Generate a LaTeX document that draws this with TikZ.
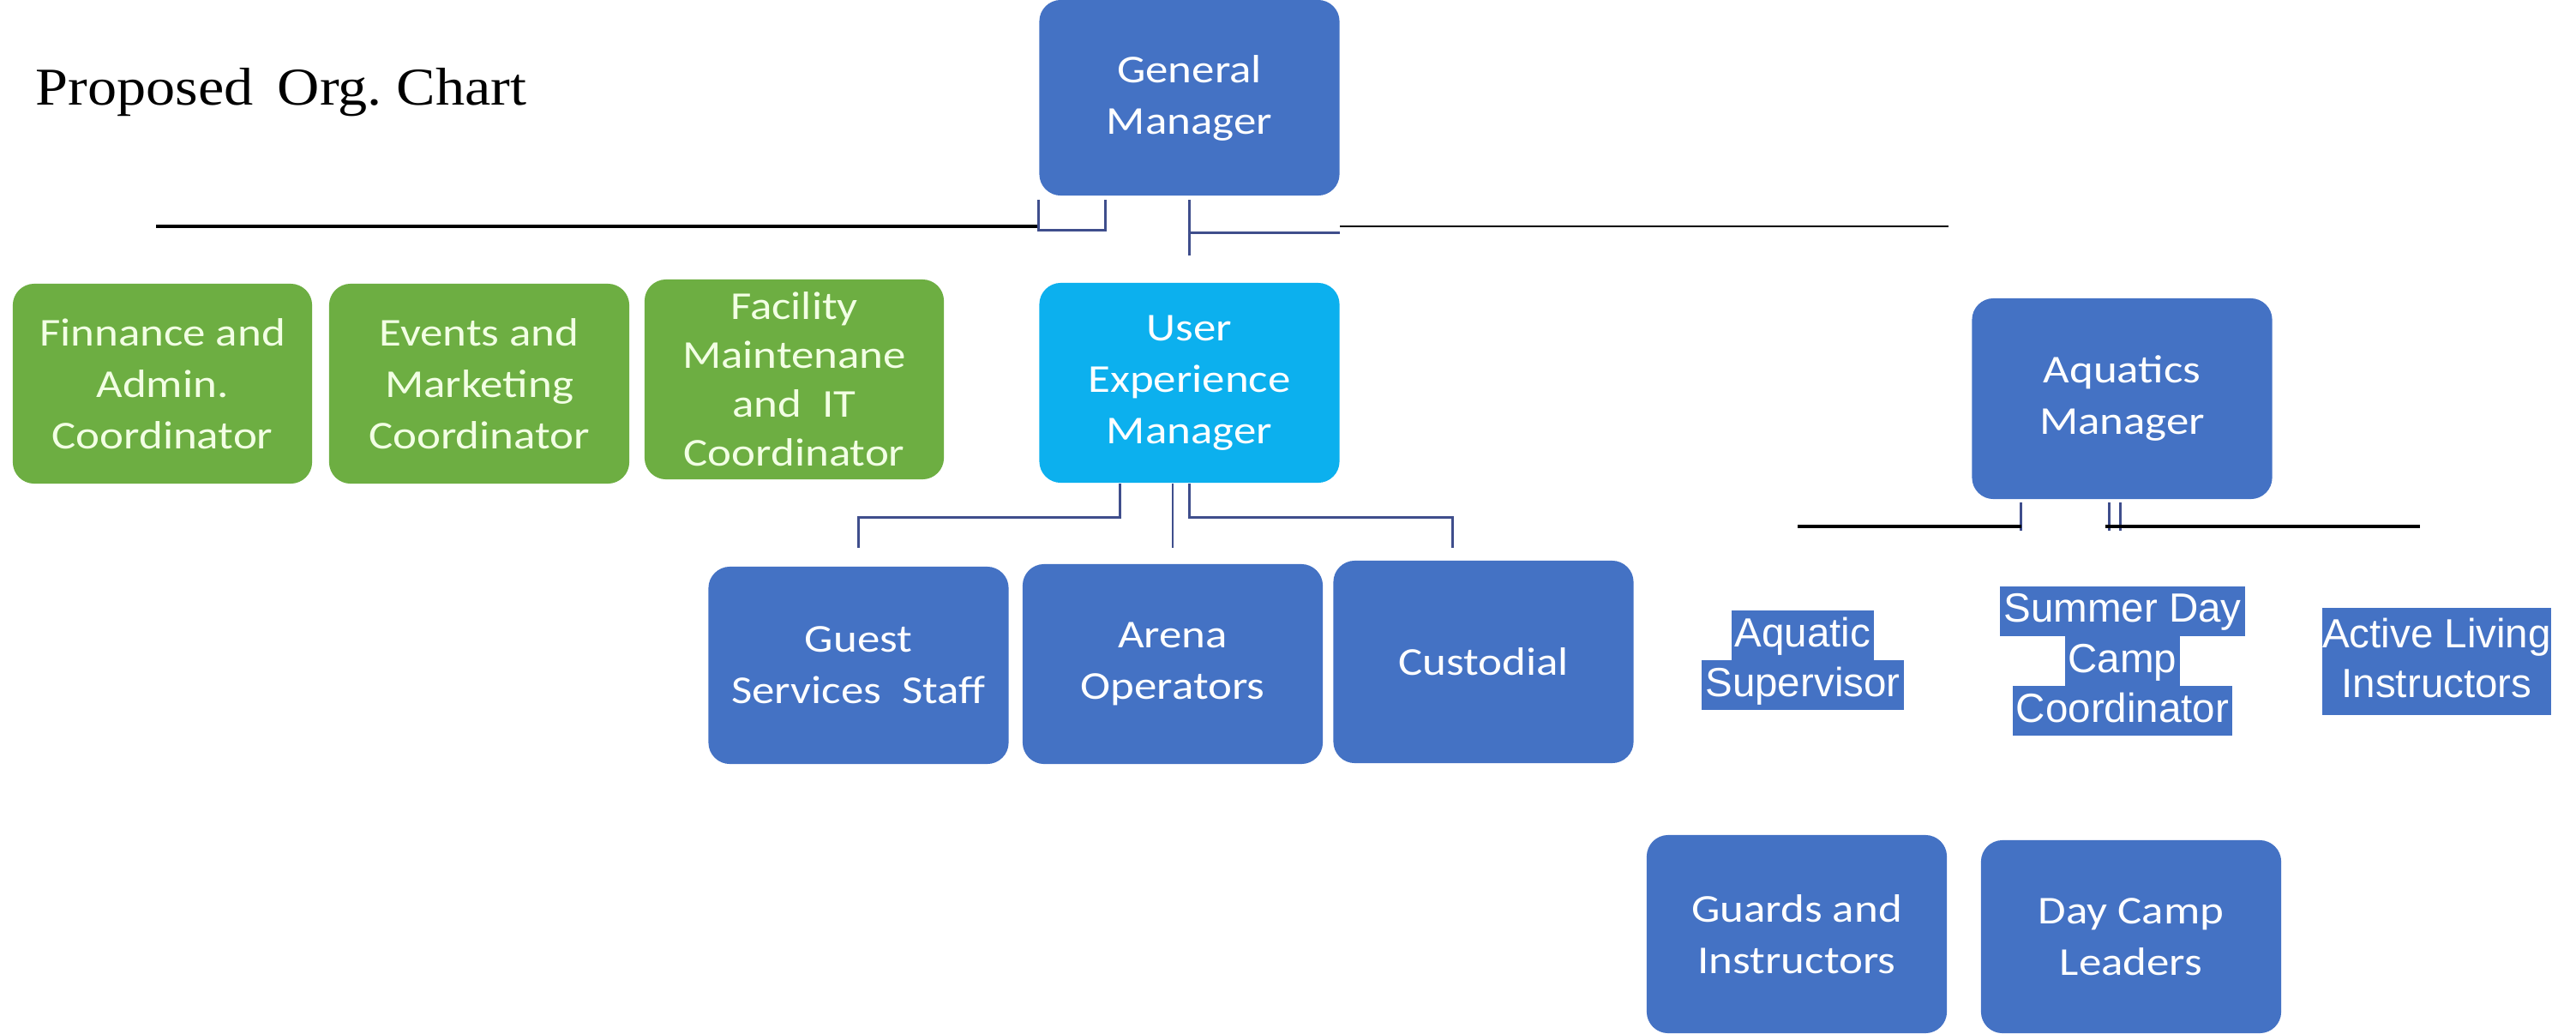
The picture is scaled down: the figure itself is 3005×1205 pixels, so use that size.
\documentclass[tikz,border=0pt]{standalone}
\usepackage{fontspec}
\newfontfamily\boxfont[FakeStretch=1.15]{Carlito}
\newfontfamily\hlfont{Liberation Sans}
\newfontfamily\titlefont[FakeStretch=1.1]{Liberation Serif}
\definecolor{gmblue}{HTML}{4472C4}
\definecolor{uxblue}{HTML}{0CB0EE}
\definecolor{grn}{HTML}{6DAE42}
\definecolor{txtgrn}{HTML}{F2FFE4}
\definecolor{hlblue}{HTML}{4472C4}
\definecolor{linkblue}{HTML}{3F4E8C}
\setlength{\fboxsep}{0pt}
\newcommand{\hlstrut}{\rule[-0.16cm]{0pt}{0.58cm}}
\newcommand{\hlrow}[1]{\colorbox{hlblue}{\hspace{0.04cm}\hlstrut#1\hspace{0.04cm}}}

\begin{document}
\begin{tikzpicture}[x=0.01cm, y=-0.01cm,
  box/.style={rounded corners=0.25cm, minimum width=3.5cm, minimum height=2.33cm,
    inner sep=0pt, align=center, text=white,
    font=\boxfont\fontsize{0.46cm}{0.6cm}\selectfont},
  greenbox/.style={box, fill=grn, text=txtgrn},
  bluebox/.style={box, fill=gmblue},
  hltext/.style={inner sep=0pt, align=center, text=white,
    font=\hlfont\fontsize{0.475cm}{0.58cm}\selectfont},
  link/.style={draw=linkblue, line width=0.028cm},
  blackline/.style={draw=black, line width=0.035cm},
  thinline/.style={draw=black, line width=0.02cm}]
  \useasboundingbox (0,0) rectangle (3005,1205);

  \node[anchor=base west, inner sep=0pt,
    font=\titlefont\fontsize{0.62cm}{0.7cm}\selectfont] (title) at (41,122)
    {Proposed\hspace{0.11cm} Org.\ Chart};

  % top level
  \node[bluebox, minimum height=2.28cm] (gm) at (1387.5,114) {General\\Manager};
  \node[box, fill=uxblue] (uxm) at (1387.5,446.5) {User\\Experience\\Manager};
  \node[greenbox, minimum width=3.49cm] (fin) at (189.5,447.5) {Finnance and\\Admin.\\Coordinator};
  \node[greenbox] (evt) at (559,447.5) {Events and\\Marketing\\Coordinator};
  \node[greenbox, minimum width=3.49cm,
    font=\boxfont\fontsize{0.46cm}{0.57cm}\selectfont] (fac) at (926.5,442.5)
    {Facility\\Maintenane\\and\ \ IT\\Coordinator};
  \node[bluebox, minimum height=2.34cm] (aqm) at (2475.5,465) {Aquatics\\Manager};

  % user experience staff
  \node[bluebox, minimum height=2.3cm] (gss) at (1001.5,776) {Guest\\Services\ \ Staff};
  \node[bluebox] (arena) at (1368,774.5) {Arena\\Operators};
  \node[bluebox, minimum height=2.36cm] (cust) at (1730.5,772) {Custodial};

  % aquatics staff
  \node[hltext] (aqs) at (2103,770) {\hlrow{Aquatic}\\\hlrow{Supervisor}};
  \node[hltext] (sdc) at (2476,771) {\hlrow{Summer Day}\\\hlrow{Camp}\\\hlrow{Coordinator}};
  \node[hltext, fill=hlblue, inner ysep=0.04cm] (ali) at (2842.5,771.5)
    {\hlstrut Active Living\\\hlstrut Instructors};
  \node[bluebox, minimum height=2.31cm] (guards) at (2096,1089.5) {Guards and\\Instructors};
  \node[bluebox, minimum height=2.25cm] (dcl) at (2486,1092.5) {Day Camp\\Leaders};

  % lines under the general manager
  \coordinate (lineL) at (182,264);
  \coordinate (lineR) at (2273,264);
  \draw[blackline] (lineL) -- (lineL -| gm.west);
  \draw[thinline] (gm.east |- lineR) -- (lineR);
  \draw[link] ([shift={(0,4)}]gm.south west) -- ++(0,36) -| ([shift={(78,4)}]gm.south west);
  \draw[link] ([shift={(0,4)}]gm.south) -- ++(0,65);
  \draw[link] ([shift={(0,43)}]gm.south) -- ([shift={(0,43)}]gm.south east);

  % lines under the user experience manager
  \draw[link] ([shift={(-81,0)}]uxm.south) -- ++(0,40) -| ([shift={(0,-21)}]gss.north);
  \draw[link] (uxm.south -| arena.north) -- ([shift={(0,-18)}]arena.north);
  \draw[link] (uxm.south) -- ++(0,40) -| ([shift={(-36,-14)}]cust.north);

  % lines under the aquatics manager
  \coordinate (aqL) at (2097,614);
  \coordinate (aqR) at (2823,614);
  \coordinate (aqtap) at ([shift={(-118,3)}]aqm.south);
  \coordinate (aqtap2) at ([shift={(-20,3)}]aqm.south);
  \draw[link] (aqtap) -- ++(0,33);
  \draw[link] ([shift={(-15,3)}]aqm.south) -- ++(0,33);
  \draw[link] ([shift={(-2,3)}]aqm.south) -- ++(0,33);
  \draw[blackline] (aqL) -- (aqtap |- aqL);
  \draw[blackline] (aqtap2 |- aqR) -- (aqR);
\end{tikzpicture}
\end{document}
